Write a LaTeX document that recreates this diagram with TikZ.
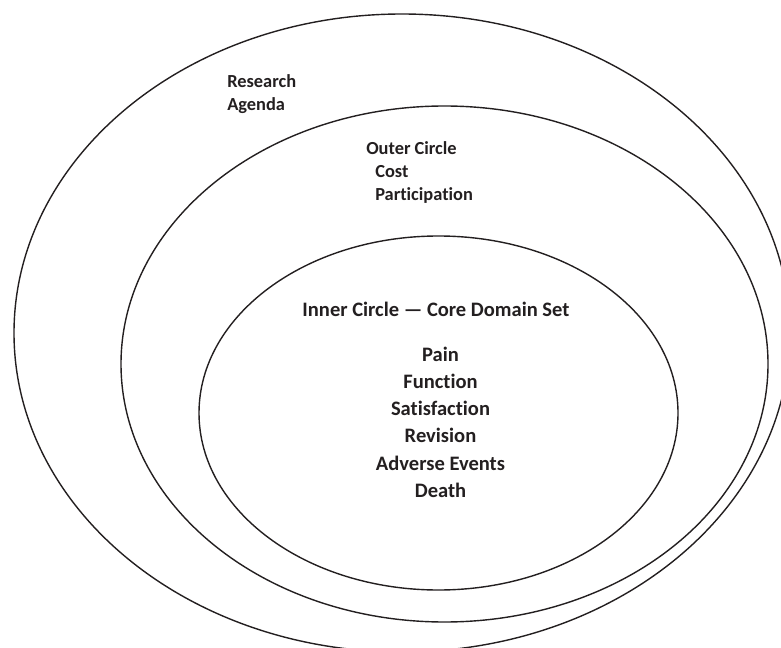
\documentclass[tikz,border=0pt]{standalone}
\usepackage{fontspec}
\setmainfont{Carlito}[Ligatures=NoCommon]
\definecolor{ink}{HTML}{231F20}
\tikzset{
  ring/.style={draw=ink, line width=1.05pt},
  ringtext/.style={text=ink, font=\fontsize{13.8}{16}\selectfont\bfseries, inner sep=0pt, anchor=base west},
  coretext/.style={text=ink, font=\fontsize{15.4}{18}\selectfont\bfseries, inner sep=0pt, anchor=base}
}
\begin{document}
\begin{tikzpicture}[x=0.75pt,y=-0.75pt]
\useasboundingbox (0,0) rectangle (781,648);
\clip (0,0) rectangle (781,648);
% the three rings
\draw[ring] (402,333) ellipse [x radius=388, y radius=319];
\draw[ring] (444.5,364) ellipse [x radius=323.5, y radius=258];
\draw[ring] (438.5,413) ellipse [x radius=239.5, y radius=177];
% research agenda
\node[ringtext] (research) at (227,88) {Research};
\node[ringtext] (agenda) at (227,111) {Agenda};
% outer circle
\node[ringtext] (outer) at (366,155) {Outer Circle};
\node[ringtext] (cost) at (375,178) {Cost};
\node[ringtext] (participation) at (375,201) {Participation};
% inner circle
\node[coretext] (core) at (436,317) {Inner Circle --- Core Domain Set};
\foreach \d [count=\i] in {Pain,Function,Satisfaction,Revision,Adverse Events,Death}
  \node[coretext] (domain\i) at (440.5,{361+27.3*(\i-1)}) {\d};
\end{tikzpicture}
\end{document}
